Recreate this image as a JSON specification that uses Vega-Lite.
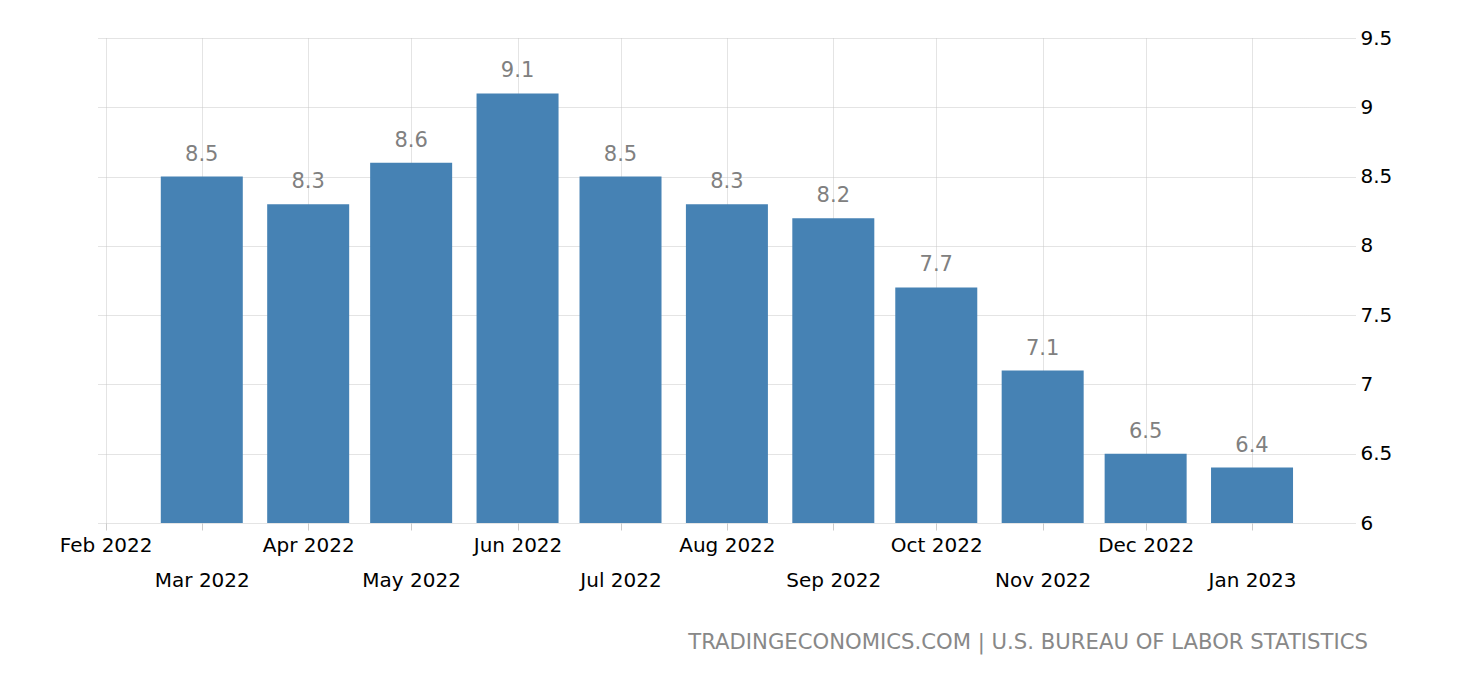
{
  "$schema": "https://vega.github.io/schema/vega-lite/v6.json",
  "width": 1257,
  "height": 485,
  "autosize": "none",
  "padding": {"left": 98, "top": 38, "right": 105, "bottom": 157},
  "background": "white",
  "config": {"view": {"stroke": null}, "font": "DejaVu Sans"},
  "title": {
    "text": "TRADINGECONOMICS.COM | U.S. BUREAU OF LABOR STATISTICS",
    "orient": "bottom",
    "anchor": "end",
    "frame": "group",
    "offset": 41,
    "dx": 13,
    "fontSize": 21.2,
    "fontWeight": "normal",
    "color": "#888888",
    "font": "DejaVu Sans"
  },
  "data": {
    "values": [
      {"date": "2022-03-01", "value": 8.5},
      {"date": "2022-04-01", "value": 8.3},
      {"date": "2022-05-01", "value": 8.6},
      {"date": "2022-06-01", "value": 9.1},
      {"date": "2022-07-01", "value": 8.5},
      {"date": "2022-08-01", "value": 8.3},
      {"date": "2022-09-01", "value": 8.2},
      {"date": "2022-10-01", "value": 7.7},
      {"date": "2022-11-01", "value": 7.1},
      {"date": "2022-12-01", "value": 6.5},
      {"date": "2023-01-01", "value": 6.4}
    ]
  },
  "encoding": {
    "x": {
      "field": "date",
      "type": "temporal",
      "scale": {"type": "utc", "domain": [1643480064000, 1675123200000], "padding": 0, "nice": false},
      "axis": {
        "orient": "bottom",
        "title": null,
        "values": [1643673600000, 1646092800000, 1648771200000, 1651363200000, 1654041600000, 1656633600000, 1659312000000, 1661990400000, 1664582400000, 1667260800000, 1669852800000, 1672531200000],
        "labelExpr": "utcFormat(datum.value, '%b %Y')",
        "domain": false,
        "grid": true,
        "gridColor": "#c8c8c8",
        "gridDash": [1, 1],
        "ticks": true,
        "tickSize": 7,
        "tickColor": "#cccccc",
        "labelFont": "DejaVu Sans",
        "labelFontSize": 20,
        "labelColor": "#000000",
        "labelBaseline": "top",
        "labelPadding": {"condition": {"test": "utcmonth(datum.value) % 2 == 0", "value": 40.5}, "value": 5.5},
        "labelOverlap": false,
        "labelFlush": false
      }
    },
    "y": {
      "field": "value",
      "type": "quantitative",
      "scale": {"domain": [6, 9.5], "zero": false, "nice": false},
      "axis": {
        "orient": "right",
        "title": null,
        "values": [6, 6.5, 7, 7.5, 8, 8.5, 9, 9.5],
        "format": "~g",
        "domain": false,
        "ticks": false,
        "tickSize": 0,
        "grid": true,
        "gridColor": "#c8c8c8",
        "gridDash": [1, 1],
        "labelFont": "DejaVu Sans",
        "labelFontSize": 20,
        "labelColor": "#000000",
        "labelAlign": "left",
        "labelBaseline": "middle",
        "labelPadding": 5
      }
    }
  },
  "layer": [
    {
      "mark": {"type": "bar", "size": 82, "color": "#4682b4"},
      "encoding": {"y2": {"datum": 6}}
    },
    {
      "mark": {"type": "text", "baseline": "alphabetic", "dy": -16, "fontSize": 21, "color": "#808080", "font": "DejaVu Sans"},
      "encoding": {"text": {"field": "value", "type": "quantitative", "format": ".1f"}}
    }
  ]
}
